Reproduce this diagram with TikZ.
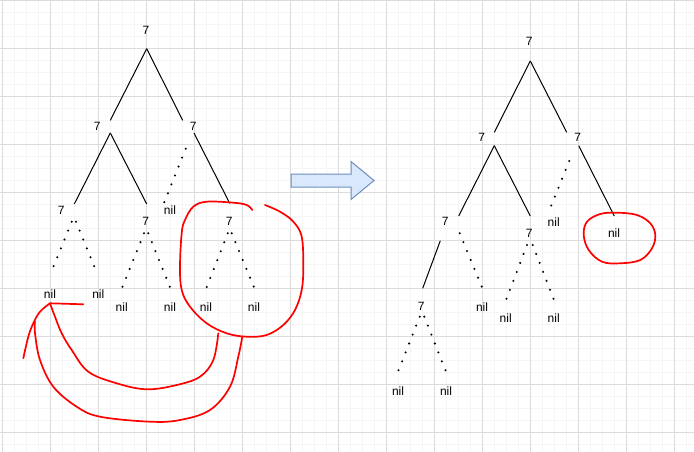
\documentclass[tikz,border=0pt]{standalone}
\usepackage{fontspec}
\setmainfont{Liberation Sans}
\usetikzlibrary{calc}
\definecolor{gridminor}{HTML}{F5F5F5}
\definecolor{gridmajor}{HTML}{DCDCDC}
\definecolor{arrowfill}{HTML}{DAE8FC}
\definecolor{arrowdraw}{HTML}{6C8EBF}
\begin{document}
\begin{tikzpicture}[x=1pt,y=-1pt,
  lbl/.style={inner sep=0pt, font=\fontsize{12}{14}\selectfont},
  edge/.style={line width=1pt, black},
  dotline/.style={line width=2.3pt, line cap=round, dash pattern=on 0pt off 9.6pt},
  redink/.style={red, line width=1.7pt, line cap=round, line join=round},
  minorline/.style={gridminor, line width=1pt},
  majorline/.style={gridmajor, line width=1pt}]
\useasboundingbox (0,0) rectangle (694,452);
\fill[white] (0,0) rectangle (694,452);
\begin{scope}
\clip (0,0) rectangle (694,452);
\foreach \i in {0,...,57} \draw[minorline] (2+12*\i,0) -- (2+12*\i,452);
\foreach \i in {0,...,37} \draw[minorline] (0,0.5+12*\i) -- (694,0.5+12*\i);
\foreach \i in {0,...,14} \draw[majorline] (2+48*\i,0) -- (2+48*\i,452);
\foreach \i in {0,...,9} \draw[majorline] (0,0.5+48*\i) -- (694,0.5+48*\i);
\end{scope}

% block arrow
\draw[fill=arrowfill, draw=arrowdraw, line width=1pt] (291,174) -- (351,174) -- (351,161.5) -- (374,180.5) -- (351,199.5) -- (351,187) -- (291,187) -- cycle;

% ---------- left tree ----------
\node[lbl] (a0) at (146,30) {7};
\node[lbl] (a1) at (97.3,126) {7};
\node[lbl] (a2) at (193.3,126) {7};
\node[lbl] (a11) at (61.3,210) {7};
\node[lbl] (a12) at (145.7,221.7) {7};
\node[lbl] (a21) at (170,210) {nil};
\node[lbl] (a22) at (229.3,221.7) {7};
\node[lbl] (a111) at (50,294.3) {nil};
\node[lbl] (a112) at (98.3,294.3) {nil};
\node[lbl] (a121) at (121.7,306.7) {nil};
\node[lbl] (a122) at (170,306.7) {nil};
\node[lbl] (a221) at (206,306.7) {nil};
\node[lbl] (a222) at (254,306.7) {nil};

\draw[edge] ($(a0)+(0.7,18.7)$) -- ($(a1)+(13,-5.7)$);
\draw[edge] ($(a0)+(0.7,18.7)$) -- ($(a2)+(-10.6,-5.7)$);
\draw[edge] ($(a1)+(13,7)$) -- ($(a11)+(13,-6)$);
\draw[edge] ($(a1)+(13,7)$) -- ($(a12)+(1,-17.7)$);
\draw[edge] ($(a2)+(0.7,7)$) -- ($(a22)+(0.4,-18.4)$);
\draw[dotline] ($(a2)+(-7.6,22.7)$) -- ($(a21)+(-6,-7)$);
\draw[dotline] ($(a11)+(10.4,11.7)$) -- ($(a111)+(0,-19.3)$);
\draw[dotline] ($(a11)+(14.7,11.7)$) -- ($(a112)+(-0.6,-19.3)$);
\draw[dotline] ($(a12)+(-1.7,11.6)$) -- ($(a121)+(0.6,-19.4)$);
\draw[dotline] ($(a12)+(2.6,11.6)$) -- ($(a122)+(0,-19.4)$);
\draw[dotline] ($(a22)+(-1.6,11.6)$) -- ($(a221)+(0.7,-19.4)$);
\draw[dotline] ($(a22)+(2.4,11.6)$) -- ($(a222)+(0,-19.4)$);

% ---------- right tree ----------
\node[lbl] (b0) at (529.3,41.7) {7};
\node[lbl] (b1) at (481.7,137.7) {7};
\node[lbl] (b2) at (577.7,137.7) {7};
\node[lbl] (b11) at (445.3,221.7) {7};
\node[lbl] (b12) at (529.3,233.3) {7};
\node[lbl] (b21) at (553.7,222) {nil};
\node[lbl] (b22) at (614,233.3) {nil};
\node[lbl] (b111) at (421.3,306.7) {7};
\node[lbl] (b112) at (482,306.7) {nil};
\node[lbl] (b121) at (505.7,318.3) {nil};
\node[lbl] (b122) at (553.7,318.3) {nil};
\node[lbl] (b1111) at (398,390.7) {nil};
\node[lbl] (b1112) at (446,390.7) {nil};

\draw[edge] ($(b0)+(1,19.3)$) -- ($(b1)+(12.6,-5.4)$);
\draw[edge] ($(b0)+(1,19.3)$) -- ($(b2)+(-11,-5.4)$);
\draw[edge] ($(b1)+(12.6,8)$) -- ($(b11)+(13.4,-5.7)$);
\draw[edge] ($(b1)+(12.6,8)$) -- ($(b12)+(1,-17.3)$);
\draw[edge] ($(b2)+(1,8)$) -- ($(b22)+(0.3,-17.3)$);
\draw[dotline] ($(b2)+(-8.4,23.3)$) -- ($(b21)+(-6,-7.7)$);
\draw[edge] ($(b11)+(-5,19)$) -- ($(b111)+(1.4,-18.4)$);
\draw[dotline] ($(b11)+(14.4,11.6)$) -- ($(b112)+(0,-19.4)$);
\draw[dotline] ($(b12)+(-2.3,11.7)$) -- ($(b121)+(0.6,-19)$);
\draw[dotline] ($(b12)+(3.4,11.7)$) -- ($(b122)+(0,-19)$);
\draw[dotline] ($(b111)+(-1.6,10)$) -- ($(b1111)+(0,-19)$);
\draw[dotline] ($(b111)+(3,10)$) -- ($(b1112)+(0,-19)$);

% ---------- red freehand marks ----------
\draw[redink] plot[smooth, tension=0.6] coordinates {(252.3,210) (246.7,205) (233.3,202.7) (206.7,201.7) (193.3,206.7) (185,220) (181.7,233) (180,266.7) (181.7,290) (190,306.7) (206.7,323.3) (226.7,333.3) (246.7,336.7) (266.7,335) (283.3,325) (295,310) (301.7,290) (303.3,266.7) (301.7,236.7) (293.3,221.7) (280,211.7) (265,205)};
\draw[redink] (83.3,304.3) -- (50,303.3);
\draw[redink] plot[smooth, tension=0.6] coordinates {(50,303.3) (55,316.7) (61.7,333.3) (71.7,350) (88.3,371.7) (116.7,383.3) (146.7,389.3) (176.7,385) (200,376.7) (213.3,360) (218.3,333.3)};
\draw[redink] plot[smooth, tension=0.6] coordinates {(50,303.3) (40,311.7) (33.3,323.3) (28.3,336.7) (23.3,358.3)};
\draw[redink] plot[smooth, tension=0.6] coordinates {(242.3,336.7) (238.3,356.7) (230,386.7) (210,410) (180,420) (150,421.7) (100,416.7) (76.7,406.7) (53.3,386.7) (40,360) (35,333.3) (35,321.7)};
\draw[redink] plot[smooth cycle, tension=0.6] coordinates {(587,221.7) (600.3,214) (617,212.7) (637,215) (650.3,223.3) (655.3,235) (652,248.3) (640.3,260) (620.3,263.3) (602,261.7) (588.7,250) (583.7,235)};
\end{tikzpicture}
\end{document}
